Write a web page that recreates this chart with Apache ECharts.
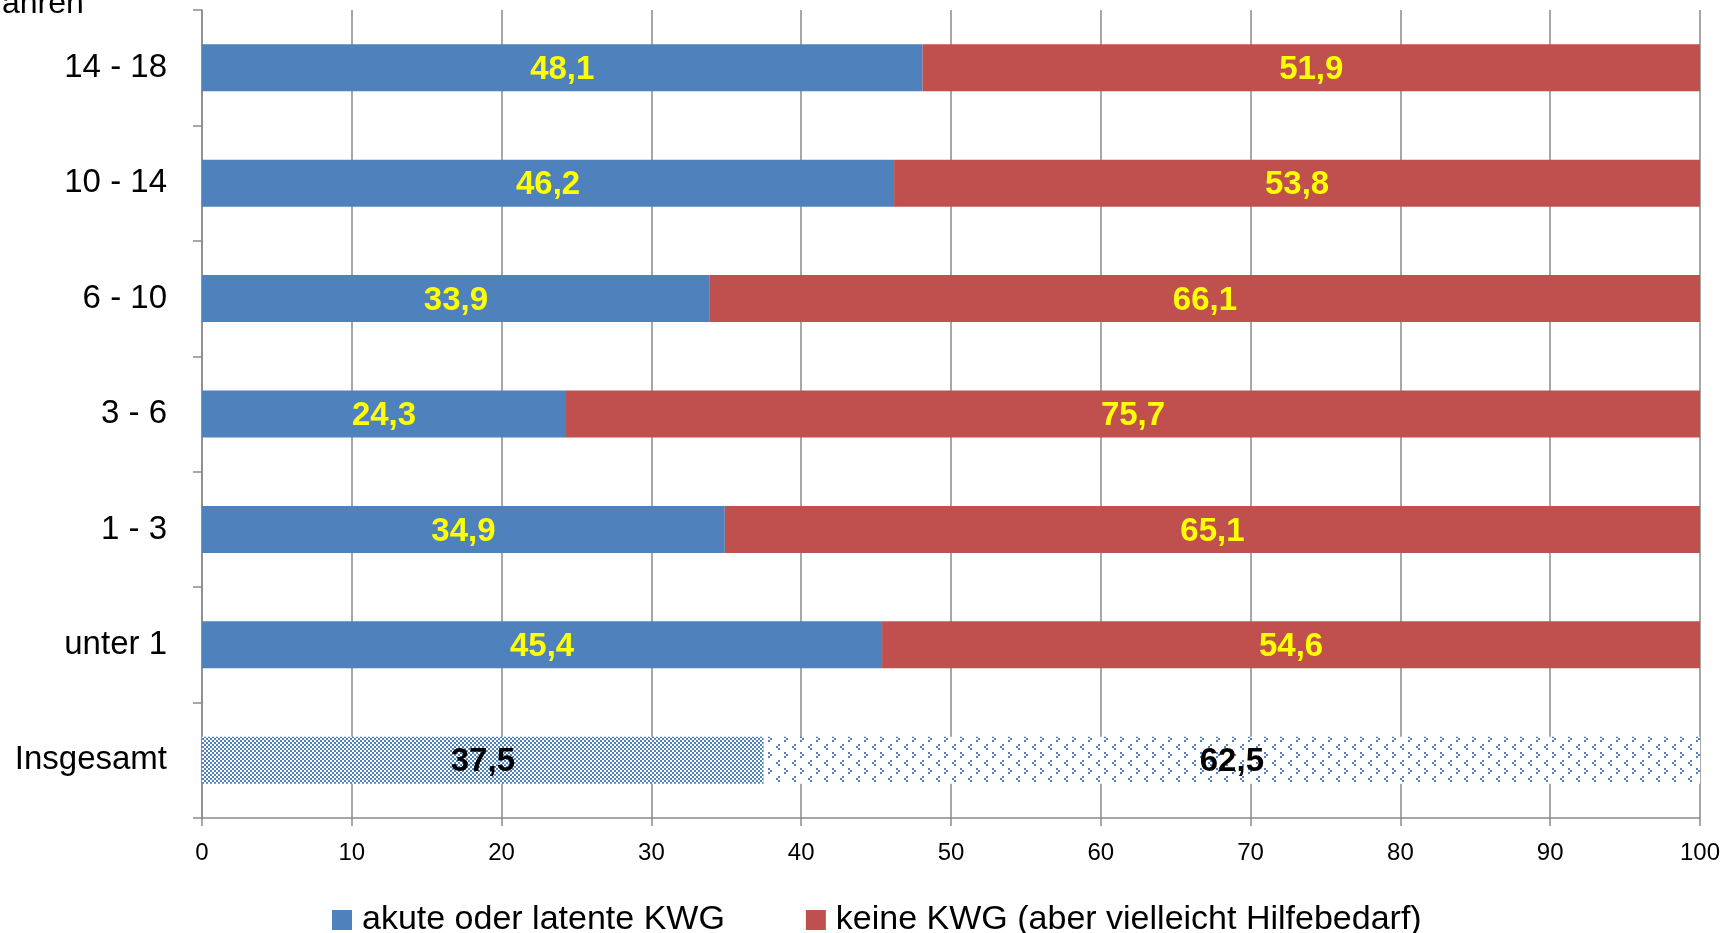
<!DOCTYPE html>
<html>
<head>
<meta charset="utf-8">
<script src="https://cdn.jsdelivr.net/npm/echarts@6/dist/echarts.min.js"></script>
<style>
html,body{margin:0;padding:0;background:#fff;}
#chart{width:1735px;height:933px;}
</style>
</head>
<body>
<div id="chart"></div>
<script>
// Data
var categories = ['Insgesamt', 'unter 1', '1 - 3', '3 - 6', '6 - 10', '10 - 14', '14 - 18'];
var akuteValues = [37.5, 45.4, 34.9, 24.3, 33.9, 46.2, 48.1];
var keineValues = [62.5, 54.6, 65.1, 75.7, 66.1, 53.8, 51.9];
var seriesNames = ['akute oder latente KWG', 'keine KWG (aber vielleicht Hilfebedarf)'];
var xTicks = {min: 0, max: 100, interval: 10};
var axisTitle = 'ahren';

var BLUE = '#4F81BD', RED = '#C0504D', FONT = 'Liberation Sans';

function makeChecker() {
  var c = document.createElement('canvas'); c.width = 4; c.height = 4;
  var g = c.getContext('2d');
  g.fillStyle = '#fff'; g.fillRect(0, 0, 4, 4);
  g.fillStyle = BLUE;
  g.fillRect(0, 0, 2, 2); g.fillRect(2, 2, 2, 2);
  return c;
}
function makeChevron() {
  var c = document.createElement('canvas'); c.width = 16; c.height = 16;
  var g = c.getContext('2d');
  g.fillStyle = '#fff'; g.fillRect(0, 0, 16, 16);
  g.fillStyle = BLUE;
  // ">" shape
  g.fillRect(0, 0, 2, 2); g.fillRect(2, 2, 2, 2); g.fillRect(0, 4, 2, 2);
  // "<" shape offset
  g.fillRect(10, 8, 2, 2); g.fillRect(8, 10, 2, 2); g.fillRect(10, 12, 2, 2);
  return c;
}
var checker = makeChecker(), chevron = makeChevron();

function buildData(values, totalPattern) {
  return values.map(function (v, i) {
    if (i === 0) {
      return {
        value: v,
        itemStyle: {color: {image: totalPattern, repeat: 'repeat'}},
        label: {color: '#000'}
      };
    }
    return v;
  });
}

var chart = echarts.init(document.getElementById('chart'), null, {renderer: 'canvas'});
var labelStyle = {
  show: true, position: 'inside', color: '#FFFF00', fontWeight: 'bold',
  fontSize: 33, fontFamily: FONT, offset: [0, 2],
  formatter: function (p) { return String(p.value).replace('.', ','); }
};
var option = {
  animation: false,
  backgroundColor: '#fff',
  textStyle: {fontFamily: FONT},
  grid: {left: 202, right: 35, top: 10, bottom: 115, containLabel: false},
  legend: {
    left: 327, top: 898,
    itemWidth: 20, itemHeight: 20, itemGap: 81,
    icon: 'rect',
    textStyle: {fontSize: 34, fontFamily: FONT, color: '#000', padding: [0, 0, 0, 5]},
    data: seriesNames
  },
  xAxis: {
    type: 'value', min: xTicks.min, max: xTicks.max, interval: xTicks.interval,
    axisLine: {show: true, lineStyle: {color: '#8a8a8a', width: 1.5}},
    axisTick: {show: true, length: 8, lineStyle: {color: '#8a8a8a', width: 1.5}},
    axisLabel: {fontSize: 24, color: '#000', margin: 23, fontFamily: FONT},
    splitLine: {show: true, lineStyle: {color: '#8a8a8a', width: 1.5}}
  },
  yAxis: {
    type: 'category', data: categories,
    axisLine: {show: true, lineStyle: {color: '#8a8a8a', width: 1.5}},
    axisTick: {show: true, length: 9, lineStyle: {color: '#8a8a8a', width: 1.5}},
    axisLabel: {fontSize: 33, color: '#000', margin: 35, fontFamily: FONT, padding: [4, 0, 0, 0]}
  },
  graphic: [{
    type: 'text', left: 2, top: -12,
    style: {text: axisTitle, fontSize: 32, fontFamily: FONT, fill: '#000'}
  }],
  series: [
    {
      name: seriesNames[0], type: 'bar', stack: 'all', barWidth: 47,
      itemStyle: {color: BLUE}, label: labelStyle,
      data: buildData(akuteValues, checker)
    },
    {
      name: seriesNames[1], type: 'bar', stack: 'all', barWidth: 47,
      itemStyle: {color: RED}, label: labelStyle,
      data: buildData(keineValues, chevron)
    }
  ]
};
chart.setOption(option);
</script>
</body>
</html>
